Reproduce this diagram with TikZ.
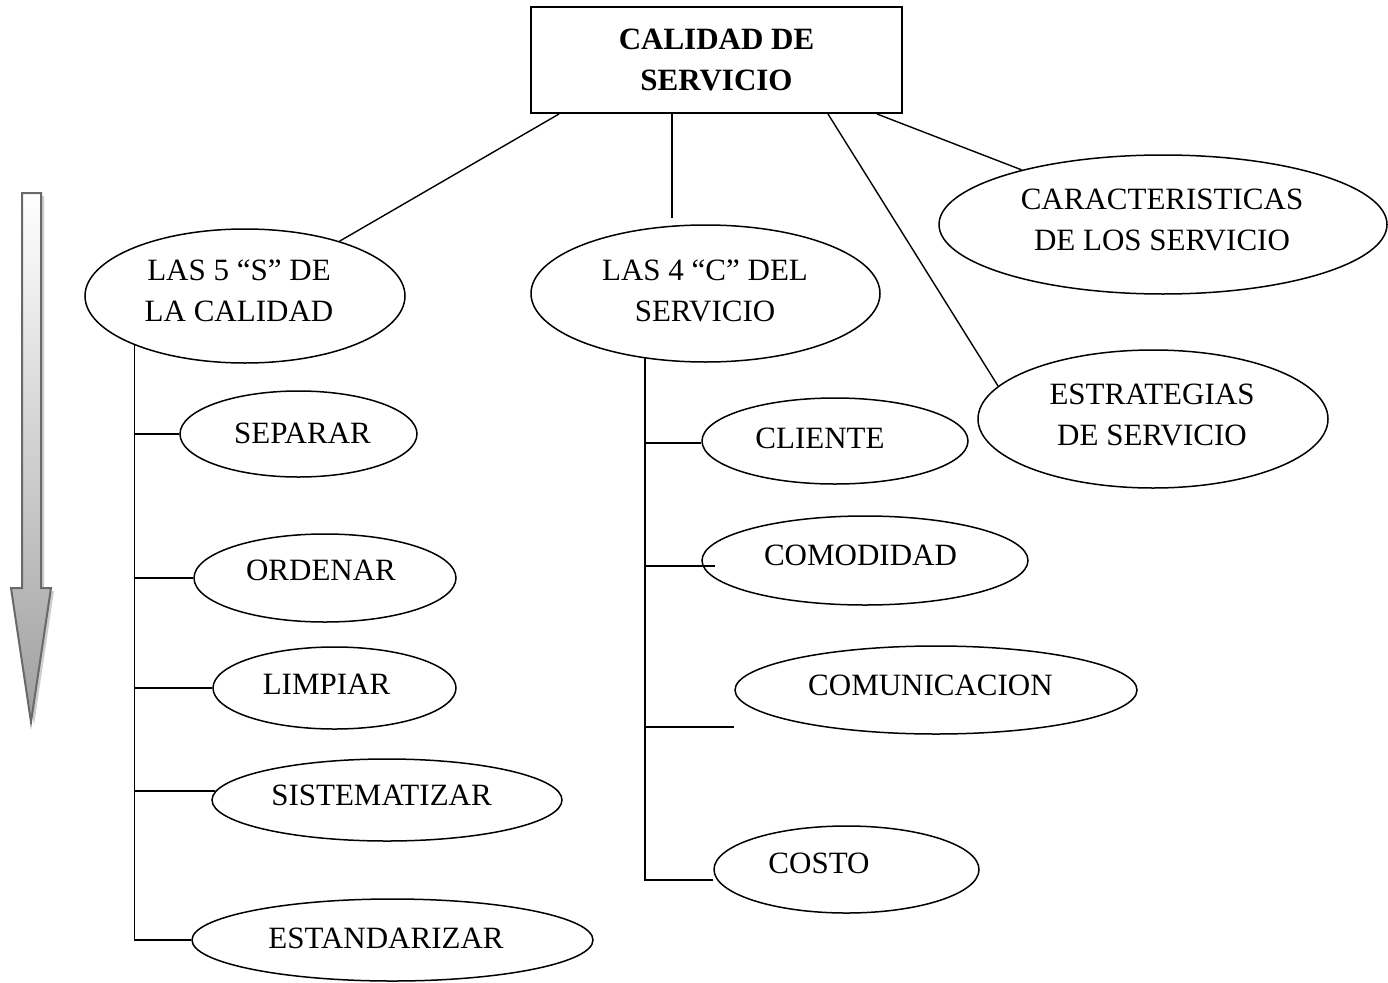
\documentclass[tikz,border=0pt]{standalone}
\usepackage{fontspec}
\setmainfont{Liberation Serif}
\usetikzlibrary{shapes.geometric}

\definecolor{arrowedge}{RGB}{105,105,105}
\definecolor{arrowshadow}{RGB}{205,205,205}

\begin{document}
\begin{tikzpicture}[x=1pt,y=-1pt,
  txt/.style={font=\fontsize{31}{41}\selectfont},
  oval/.style 2 args={draw, ellipse, line width=1.5pt, inner sep=0pt,
    minimum width=#1pt, minimum height=#2pt},
  every label/.style={inner sep=0pt, align=center, txt},
  link/.style={line width=1.4pt},
  titlebox/.style={draw, line width=2pt, inner sep=0pt, align=center,
    minimum width=371pt, minimum height=106pt,
    font=\bfseries\fontsize{31}{41}\selectfont},
]
\useasboundingbox (0,0) rectangle (1388,982);

% vertical progress arrow on the left
\fill[arrowshadow] (25,196) -- (44,196) -- (44,591) -- (54,591) -- (34,725)
  -- (14,591) -- (25,591) -- cycle;
\path[draw=arrowedge, line width=2pt, line join=miter, top color=white, bottom color=gray!75]
  (22,193) -- (41,193) -- (41,588) -- (51,588) -- (31,722)
  -- (11,588) -- (22,588) -- cycle;

% main title
\node[titlebox] (top) at (716.5,60) {CALIDAD DE\\SERVICIO};

% first level
\node[oval={320}{134}, label={[xshift=-6pt,yshift=5.5pt]center:LAS 5 “S” DE\\LA CALIDAD}] (s5) at (245,296) {};
\node[oval={349}{137}, label={[xshift=-0.5pt,yshift=3pt]center:LAS 4 “C” DEL\\SERVICIO}] (c4) at (705.5,293.5) {};
\node[oval={448}{139}, label={[xshift=-1pt,yshift=4.5pt]center:CARACTERISTICAS\\DE LOS SERVICIO}] (car) at (1163,224.5) {};
\node[oval={350}{138}, label={[xshift=-1pt,yshift=4pt]center:ESTRATEGIAS\\DE SERVICIO}] (est) at (1153,419) {};

% the 5 S
\node[oval={237}{86}, label={[xshift=4pt,yshift=1pt]center:SEPARAR}] (sep) at (298.5,434) {};
\node[oval={262}{88}, label={[xshift=-4pt,yshift=8pt]center:ORDENAR}] (ord) at (325,578) {};
\node[oval={243}{82}, label={[xshift=-8pt,yshift=4pt]center:LIMPIAR}] (lim) at (334.5,688) {};
\node[oval={350}{82}, label={[xshift=-5.5pt,yshift=5pt]center:SISTEMATIZAR}] (sis) at (387,800) {};
\node[oval={401}{82}, label={[xshift=-6.5pt,yshift=2pt]center:ESTANDARIZAR}] (std) at (392.5,940) {};

% the 4 C
\node[oval={266}{86}, label={[xshift=-15pt,yshift=3pt]center:CLIENTE}] (cli) at (835,441) {};
\node[oval={326}{89}, label={[xshift=-4.5pt,yshift=5pt]center:COMODIDAD}] (com) at (865,560.5) {};
\node[oval={402}{88}, label={[xshift=-5.5pt,yshift=5pt]center:COMUNICACION}] (cmn) at (936,690) {};
\node[oval={265}{87}, label={[xshift=-27.5pt,yshift=6.5pt]center:COSTO}] (cos) at (846.5,869.5) {};

% links from the title
\draw[link] ([xshift=29pt]top.south west) -- (s5);
\draw[link] ([xshift=142pt]top.south west) coordinate (c4start) -- ([yshift=-104pt]c4start) coordinate (c4end);
\draw[link] ([xshift=298pt]top.south west) -- (est.168);
\draw[link] ([xshift=347pt]top.south west) -- (car);

% bracket of the 5 S
\draw[link] (s5.204.8) |- (std.west);
\draw[link] (s5.204.8) |- (sep.west);
\draw[link] (s5.204.8) |- (ord.west);
\draw[link] (s5.204.8) |- (lim.west);
\draw[link] (s5.204.8) |- (sis.177.7);

% bracket of the 4 C
\draw[link] (c4.227.8) |- ([yshift=-10.5pt]cos.west);
\draw[link] (c4.227.8) |- ([yshift=-2pt]cli.west);
\draw[link] (c4.227.8) |- ([xshift=14pt,yshift=-5.5pt]com.west);
\draw[link] (c4.227.8) |- ([yshift=-37pt]cmn.west);
\end{tikzpicture}
\end{document}
